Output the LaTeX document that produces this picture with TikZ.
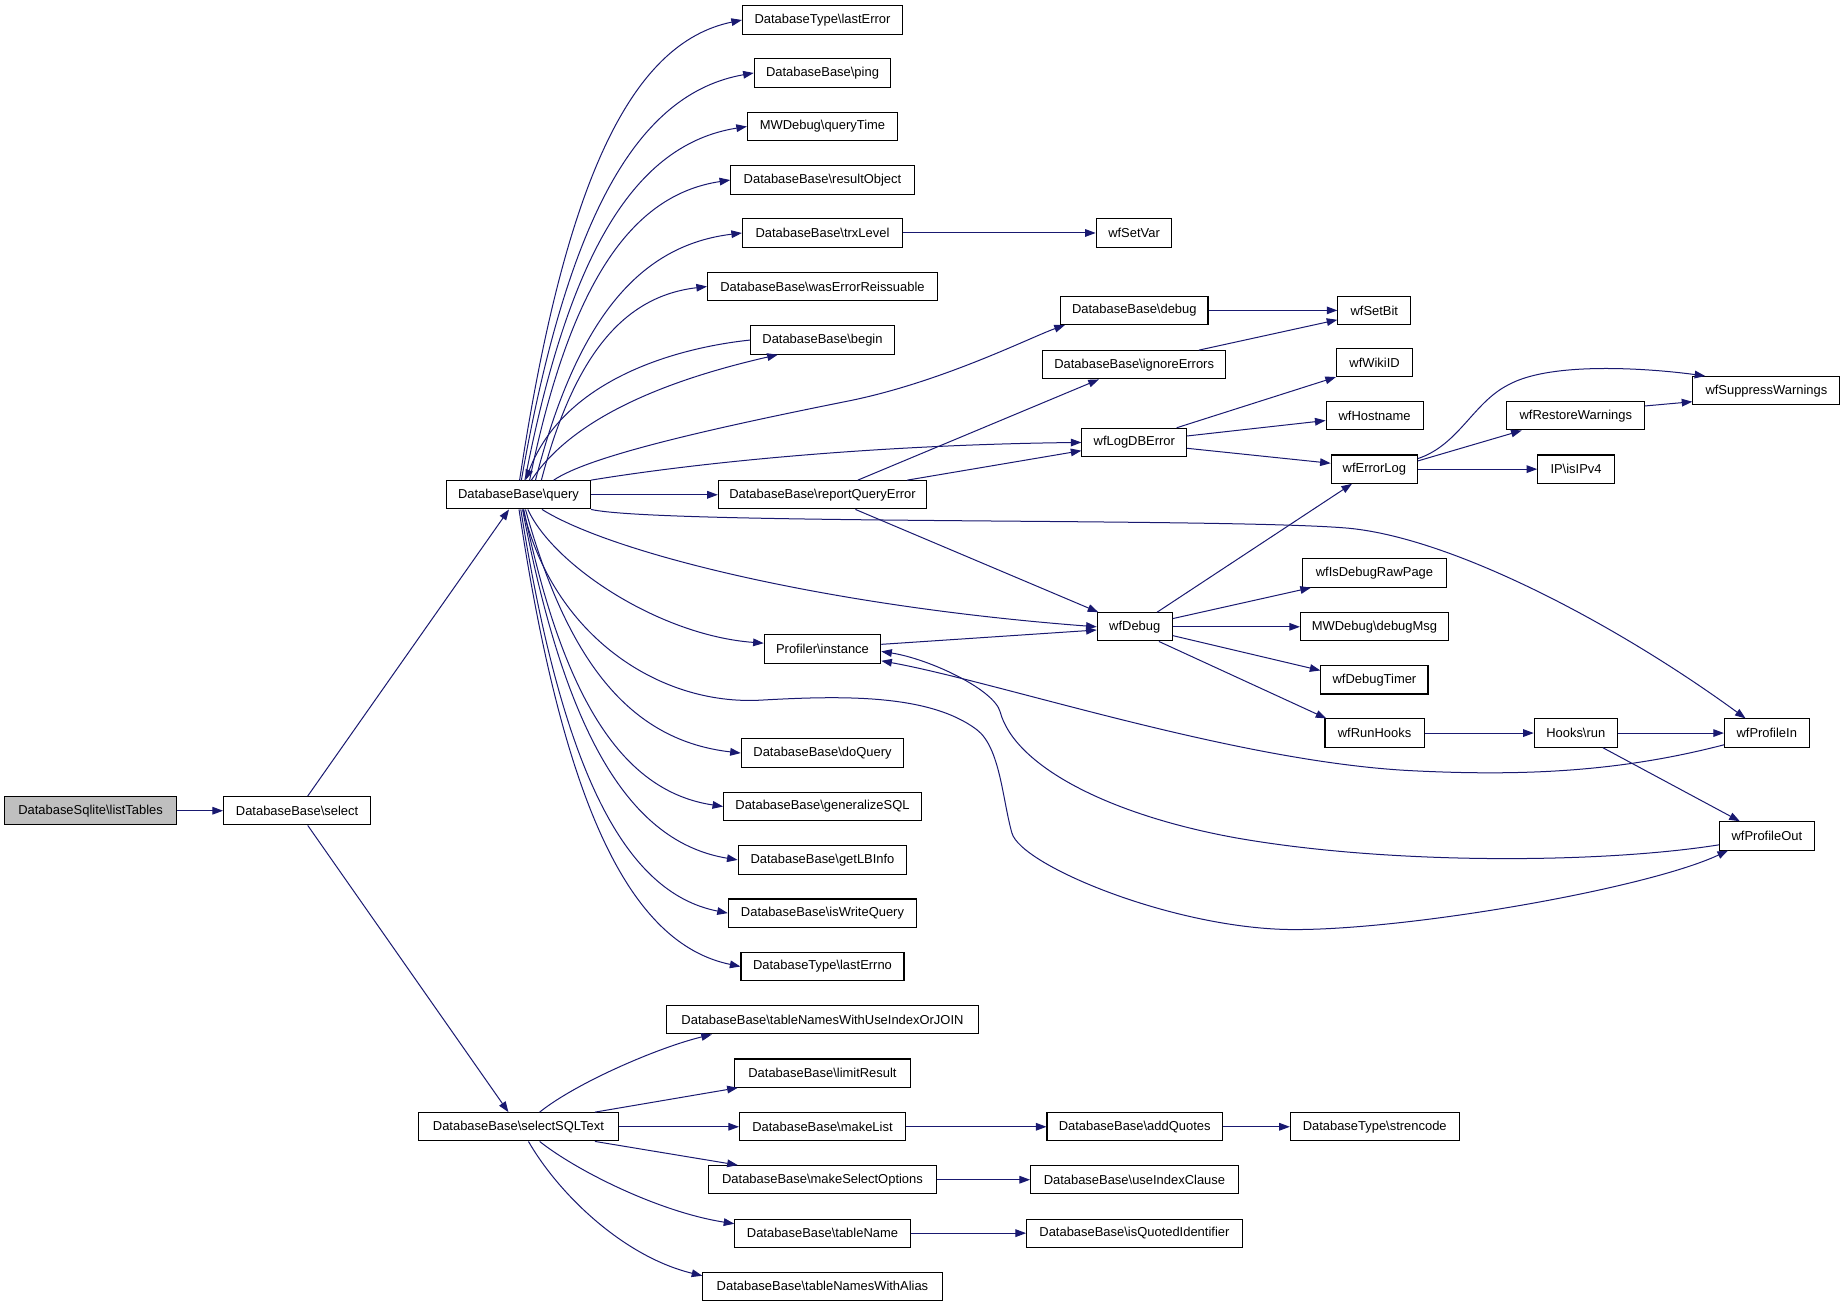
\documentclass[tikz,border=0pt]{standalone}
\usepackage{fontspec}
\setmainfont{Liberation Sans}
\usetikzlibrary{arrows.meta}
\definecolor{edgec}{RGB}{25,25,112}
\definecolor{rootfill}{RGB}{191,191,191}
\begin{document}
\begin{tikzpicture}[x=1pt,y=-1pt,
  box/.style={draw=black, line width=0.9pt, fill=white, minimum height=24pt, inner sep=0pt,
    font=\fontsize{11}{13}\selectfont},
  rootbox/.style={box, fill=rootfill},
  e/.style={draw=edgec, line width=0.85pt, -{Triangle[length=9pt,width=6.5pt]}}]
\path[fill=white] (0,0) rectangle (1568,1110.7);
\useasboundingbox (0,0) rectangle (1568,1110.7);

% column 1-2
\node[rootbox, minimum width=146pt] (listTables) at (77,689) {DatabaseSqlite\textbackslash listTables};
\node[box, minimum width=125pt] (select) at (252.5,689) {DatabaseBase\textbackslash select};
\node[box, minimum width=122.5pt] (query) at (440.6,420.5) {DatabaseBase\textbackslash query};
\node[box, minimum width=169.5pt] (selectSQLText) at (440.6,957.6) {DatabaseBase\textbackslash selectSQLText};

% column 3
\node[box, minimum width=136pt] (lastError) at (699,17) {DatabaseType\textbackslash lastError};
\node[box, minimum width=116pt] (ping) at (699,62) {DatabaseBase\textbackslash ping};
\node[box, minimum width=127.6pt] (queryTime) at (699,107.5) {MWDebug\textbackslash queryTime};
\node[box, minimum width=156pt] (resultObject) at (699,153) {DatabaseBase\textbackslash resultObject};
\node[box, minimum width=136pt] (trxLevel) at (699,198) {DatabaseBase\textbackslash trxLevel};
\node[box, minimum width=195.5pt] (wasErr) at (699,243.5) {DatabaseBase\textbackslash wasErrorReissuable};
\node[box, minimum width=122pt] (begin) at (699,289) {DatabaseBase\textbackslash begin};
\node[box, minimum width=177pt] (reportQE) at (699,420.5) {DatabaseBase\textbackslash reportQueryError};
\node[box, minimum width=99pt] (instance) at (699,551.6) {Profiler\textbackslash instance};
\node[box, minimum width=138pt] (doQuery) at (699,640) {DatabaseBase\textbackslash doQuery};
\node[box, minimum width=168pt] (generalizeSQL) at (699,685.4) {DatabaseBase\textbackslash generalizeSQL};
\node[box, minimum width=143.4pt] (getLBInfo) at (699,730.8) {DatabaseBase\textbackslash getLBInfo};
\node[box, minimum width=160pt] (isWriteQuery) at (699,776) {DatabaseBase\textbackslash isWriteQuery};
\node[box, minimum width=138.5pt] (lastErrno) at (699,821.4) {DatabaseType\textbackslash lastErrno};
\node[box, minimum width=264.4pt] (tnUseIdx) at (699,866.7) {DatabaseBase\textbackslash tableNamesWithUseIndexOrJOIN};
\node[box, minimum width=149pt] (limitResult) at (699,912) {DatabaseBase\textbackslash limitResult};
\node[box, minimum width=141pt] (makeList) at (699,957.6) {DatabaseBase\textbackslash makeList};
\node[box, minimum width=193pt] (makeSelOpt) at (699,1002.6) {DatabaseBase\textbackslash makeSelectOptions};
\node[box, minimum width=149pt] (tableName) at (699,1048) {DatabaseBase\textbackslash tableName};
\node[box, minimum width=203.4pt] (tnAlias) at (699,1093.2) {DatabaseBase\textbackslash tableNamesWithAlias};

% column 4
\node[box, minimum width=64.4pt] (wfSetVar) at (963.8,198) {wfSetVar};
\node[box, minimum width=125.2pt] (debug) at (964,263.8) {DatabaseBase\textbackslash debug};
\node[box, minimum width=155.8pt] (ignoreErrors) at (963.9,310) {DatabaseBase\textbackslash ignoreErrors};
\node[box, minimum width=89pt] (wfLogDBError) at (964,376) {wfLogDBError};
\node[box, minimum width=63.8pt] (wfDebug) at (964.4,532.7) {wfDebug};
\node[box, minimum width=149pt] (addQuotes) at (964.3,957.6) {DatabaseBase\textbackslash addQuotes};
\node[box, minimum width=176.5pt] (useIndexClause) at (964.1,1002.6) {DatabaseBase\textbackslash useIndexClause};
\node[box, minimum width=183.3pt] (isQuotedId) at (964.1,1048) {DatabaseBase\textbackslash isQuotedIdentifier};

% column 5
\node[box, minimum width=62pt] (wfSetBit) at (1168,263.8) {wfSetBit};
\node[box, minimum width=64.8pt] (wfWikiID) at (1168.2,308) {wfWikiID};
\node[box, minimum width=82.4pt] (wfHostname) at (1168.2,353.4) {wfHostname};
\node[box, minimum width=73.3pt] (wfErrorLog) at (1168,398.7) {wfErrorLog};
\node[box, minimum width=121.8pt] (wfIsDebugRawPage) at (1168.1,487) {wfIsDebugRawPage};
\node[box, minimum width=125.8pt] (debugMsg) at (1168.1,532.7) {MWDebug\textbackslash debugMsg};
\node[box, minimum width=91pt] (wfDebugTimer) at (1168.1,577.8) {wfDebugTimer};
\node[box, minimum width=84.3pt] (wfRunHooks) at (1168.2,623) {wfRunHooks};
\node[box, minimum width=143.4pt] (strencode) at (1168.3,957.6) {DatabaseType\textbackslash strencode};

% column 6
\node[box, minimum width=117pt] (wfRestoreWarnings) at (1339.2,353.4) {wfRestoreWarnings};
\node[box, minimum width=65.1pt] (isIPv4) at (1339.4,398.7) {IP\textbackslash isIPv4};
\node[box, minimum width=70.6pt] (hooksRun) at (1339.2,623) {Hooks\textbackslash run};

% column 7
\node[box, minimum width=125pt] (wfSuppressWarnings) at (1501.2,332) {wfSuppressWarnings};
\node[box, minimum width=72pt] (wfProfileIn) at (1501.5,623) {wfProfileIn};
\node[box, minimum width=80.7pt] (wfProfileOut) at (1501.6,710.4) {wfProfileOut};

% ---- edges ----
\draw[e] (listTables) -- (select);
\draw[e] ([xshift=9pt]select.north) -- ([xshift=-8pt]query.south);
\draw[e] ([xshift=9pt]select.south) -- ([xshift=-8.5pt]selectSQLText.north);

% query upper fan
\draw[e] ([xshift=1pt]query.north) .. controls (480,154) and (536,36.5) .. (lastError.west);
\draw[e] ([xshift=2.5pt]query.north) .. controls (482.6,183) and (542,79.3) .. (ping.west);
\draw[e] ([xshift=5.5pt]query.north) .. controls (483.8,212.7) and (540.5,122.5) .. (queryTime.west);
\draw[e] ([xshift=9.5pt]query.north) .. controls (484.2,242.3) and (535.5,165.8) .. (resultObject.west);
\draw[e] ([xshift=14.5pt]query.north) .. controls (490,271.5) and (543,208.5) .. (trxLevel.west);
\draw[e] ([xshift=19.5pt]query.north) .. controls (488.2,301) and (530.5,251.7) .. (wasErr.west);
\draw[e] (begin.west) .. controls (580,295) and (480,320) .. ([xshift=6pt]query.north);
\draw[e] ([xshift=11pt]query.north) .. controls (490,350) and (580,320) .. ([xshift=-38pt]begin.south);
\draw[e] ([xshift=30pt]query.north) .. controls (500,388) and (600,365) .. (720,341)
   .. controls (800,325) and (875,287) .. ([xshift=-59pt]debug.south);
\draw[e] (query.north east) .. controls (600,392) and (750,378) .. (wfLogDBError.west);
\draw[e] (query) -- (reportQE);
\draw[e] (query.south east) .. controls (560,446) and (1050,440) .. (1147,449)
   .. controls (1237,458) and (1376,532) .. ([xshift=-18pt]wfProfileIn.north);
\draw[e] ([xshift=20pt]query.south) .. controls (520,470) and (700,515) .. (wfDebug.west);
\draw[e] ([xshift=8pt]query.south) .. controls (470,480) and (560,540) .. ([yshift=5pt]instance.west);
\draw[e] ([xshift=4pt]query.south) .. controls (470,540) and (560,600) .. (647,595)
   .. controls (717,591) and (790,590) .. (830,620)
   .. controls (850,635) and (852,680) .. (860,708)
   .. controls (868,736) and (1000,790) .. (1100,790)
   .. controls (1200,790) and (1400,755) .. ([xshift=-33pt]wfProfileOut.south);

% query lower fan
\draw[e] ([xshift=6pt]query.south) .. controls (483.6,567.2) and (538.5,629.6) .. (doQuery.west);
\draw[e] ([xshift=4.5pt]query.south) .. controls (479,596.3) and (530,672.8) .. (generalizeSQL.west);
\draw[e] ([xshift=3.5pt]query.south) .. controls (480.7,625.8) and (535.8,715.9) .. (getLBInfo.west);
\draw[e] ([xshift=2pt]query.south) .. controls (477.8,655.2) and (530.7,758.8) .. (isWriteQuery.west);
\draw[e] ([xshift=0.5pt]query.south) .. controls (478.8,685) and (535.4,802) .. (lastErrno.west);

% middle
\draw[e] (trxLevel) -- (wfSetVar);
\draw[e] ([xshift=30pt]reportQE.north) -- ([xshift=-30pt]ignoreErrors.south);
\draw[e] ([xshift=72pt]reportQE.north) -- ([yshift=-7pt]wfLogDBError.west);
\draw[e] ([xshift=28pt]reportQE.south) -- ([xshift=-31pt]wfDebug.north);
\draw[e] ([yshift=4pt]instance.east) -- ([yshift=-2.7pt]wfDebug.west);
\draw[e] ([yshift=-10pt]wfProfileIn.west) .. controls (1380,655) and (1300,660) .. (1200,655)
   .. controls (1050,647.5) and (850,580) .. ([yshift=-10pt]instance.east);
\draw[e] ([yshift=-7.6pt]wfProfileOut.west) .. controls (1360,734) and (1180,735) .. (1050,712)
   .. controls (940,692) and (862,650) .. (850,605)
   .. controls (845,586) and (790,560) .. ([yshift=-2pt]instance.east);

\draw[e] (debug) -- (wfSetBit);
\draw[e] ([xshift=55pt]ignoreErrors.north) -- ([yshift=-8pt]wfSetBit.west);
\draw[e] ([xshift=36pt]wfLogDBError.north) -- (wfWikiID.south west);
\draw[e] ([yshift=5.5pt]wfLogDBError.east) -- ([yshift=-4pt]wfHostname.west);
\draw[e] ([yshift=-5pt]wfLogDBError.east) -- ([yshift=5pt]wfErrorLog.west);

\draw[e] ([xshift=19pt]wfDebug.north) -- ([xshift=-19pt]wfErrorLog.south);
\draw[e] ([yshift=7pt]wfDebug.east) -- ([xshift=-54pt]wfIsDebugRawPage.south);
\draw[e] (wfDebug) -- (debugMsg);
\draw[e] ([yshift=-7.5pt]wfDebug.east) -- ([yshift=8pt]wfDebugTimer.west);
\draw[e] ([xshift=20.5pt]wfDebug.south) -- ([xshift=-41pt]wfRunHooks.north);
\draw[e] (wfRunHooks) -- (hooksRun);
\draw[e] (hooksRun) -- (wfProfileIn);
\draw[e] ([xshift=23pt]hooksRun.south) -- ([xshift=-23pt]wfProfileOut.north);

\draw[e] ([yshift=9pt]wfErrorLog.east) .. controls (1240,378) and (1252,342) .. (1282,327)
   .. controls (1320,306) and (1409,314) .. ([xshift=-52pt]wfSuppressWarnings.north);
\draw[e] ([yshift=7pt]wfErrorLog.east) -- ([xshift=-46pt]wfRestoreWarnings.south);
\draw[e] (wfErrorLog) -- (isIPv4);
\draw[e] ([yshift=8.4pt]wfRestoreWarnings.east) -- ([yshift=-9.4pt]wfSuppressWarnings.west);

% selectSQLText fan
\draw[e] ([xshift=18pt]selectSQLText.north) .. controls (490,920) and (560,890) .. ([xshift=-94pt]tnUseIdx.south);
\draw[e] ([xshift=65pt]selectSQLText.north) -- ([xshift=-72pt]limitResult.south);
\draw[e] (selectSQLText) -- (makeList);
\draw[e] ([xshift=65pt]selectSQLText.south) -- ([xshift=-72pt]makeSelOpt.north);
\draw[e] ([xshift=18pt]selectSQLText.south) .. controls (490,995) and (560,1030) .. ([yshift=8pt]tableName.west);
\draw[e] ([xshift=8.5pt]selectSQLText.south) .. controls (475,1015) and (530,1068) .. ([yshift=9pt]tnAlias.west);

\draw[e] (makeList) -- (addQuotes);
\draw[e] (addQuotes) -- (strencode);
\draw[e] (makeSelOpt) -- (useIndexClause);
\draw[e] (tableName) -- (isQuotedId);
\end{tikzpicture}
\end{document}
